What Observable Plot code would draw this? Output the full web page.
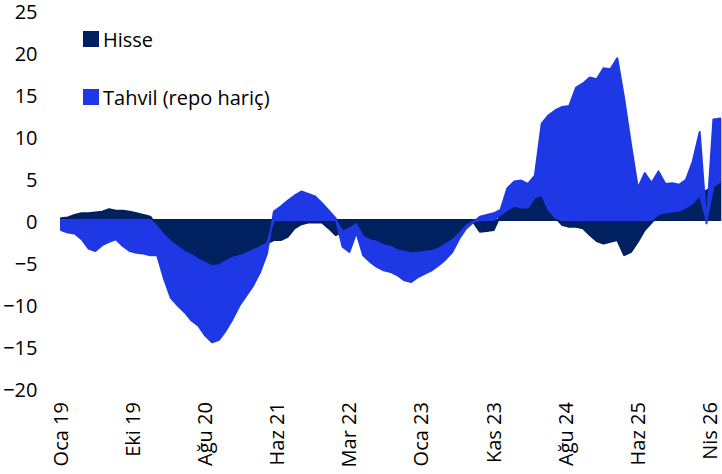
<!DOCTYPE html>
<html>
<head>
<meta charset="utf-8">
<script src="https://cdn.jsdelivr.net/npm/d3@7"></script>
<script src="https://cdn.jsdelivr.net/npm/@observablehq/plot@0.6"></script>
<style>
  html, body { margin: 0; padding: 0; background: #fff; }
  #wrap { position: relative; width: 722px; height: 474px; font-family: "Open Sans", sans-serif; }
  .leg { position: absolute; left: 83px; height: 28px; display: flex; align-items: center; gap: 4px; font-size: 20px; color: #000; white-space: nowrap; }
  .sw { width: 16px; height: 16px; display: inline-block; }
</style>
</head>
<body>
<div id="wrap"></div>
<script>
const seriesNames = ["Hisse", "Tahvil (repo hariç)"];
const seriesColors = ["#00205f", "#1f38e6"];

const dates = [
"2019-01-04","2019-02-01","2019-03-01","2019-03-29","2019-04-26","2019-05-24","2019-06-21","2019-07-19","2019-08-16","2019-09-13","2019-10-11","2019-11-08","2019-12-06",
"2020-01-03","2020-01-31","2020-02-28","2020-03-27","2020-04-24","2020-05-22","2020-06-19","2020-07-17","2020-08-14","2020-09-11","2020-10-09","2020-11-06","2020-12-04",
"2021-01-01","2021-01-29","2021-02-26","2021-03-26","2021-04-23","2021-05-21","2021-06-18","2021-07-16","2021-08-13","2021-09-10","2021-10-08","2021-11-05","2021-12-03","2021-12-31",
"2022-01-28","2022-02-25","2022-03-25","2022-04-22","2022-05-20","2022-06-17","2022-07-15","2022-08-12","2022-09-09","2022-10-07","2022-11-04","2022-12-02","2022-12-30",
"2023-01-27","2023-02-24","2023-03-24","2023-04-21","2023-05-19","2023-06-16","2023-07-14","2023-08-11","2023-09-08","2023-10-06","2023-11-03","2023-12-01","2023-12-29",
"2024-01-26","2024-02-23","2024-03-22","2024-04-19","2024-05-17","2024-06-14","2024-07-12","2024-08-09","2024-09-06","2024-10-04","2024-11-01","2024-11-29","2024-12-27",
"2025-01-24","2025-02-21","2025-03-21","2025-04-18","2025-05-16","2025-06-13","2025-07-11","2025-08-08","2025-09-05","2025-10-03","2025-10-31","2025-11-28","2025-12-26",
"2026-01-23","2026-02-20","2026-03-20","2026-04-17","2026-05-15"];

const hisse = [
0.2,0.3,0.6,0.8,0.8,0.9,1.0,1.3,1.1,1.1,1.0,0.8,0.6,
0.4,-0.8,-1.8,-2.6,-3.2,-3.8,-4.2,-4.7,-5.1,-5.5,-5.4,-4.9,-4.5,
-4.3,-4.0,-3.6,-3.2,-2.8,-2.4,-2.4,-2.0,-1.0,-0.5,-0.3,-0.3,-0.3,-1.0,
-1.8,-1.4,-1.0,-0.5,-2.0,-2.4,-2.6,-3.0,-3.2,-3.6,-3.8,-4.0,-3.9,
-3.8,-3.7,-3.4,-2.9,-2.4,-1.6,-0.7,-0.2,-1.4,-1.3,-1.2,0.6,1.2,
1.7,1.5,1.5,2.7,3.0,1.2,0.3,-0.6,-0.8,-0.8,-1.0,-1.8,-2.5,
-2.8,-2.6,-2.4,-4.2,-3.8,-2.6,-1.2,-0.3,0.7,0.9,1.0,1.1,1.5,
2.0,3.0,3.5,4.0,4.6];

const tahvil = [
-1.2,-1.5,-1.6,-2.3,-3.4,-3.7,-3.0,-2.6,-2.3,-3.1,-3.7,-3.9,-4.0,
-4.2,-3.4,-5.2,-6.7,-7.0,-7.2,-7.8,-7.9,-8.7,-9.1,-8.9,-8.3,-7.3,
-5.9,-5.0,-4.2,-3.0,-1.2,1.0,1.6,2.3,2.9,3.4,3.1,2.8,2.0,1.1,
0.2,-1.8,-2.8,-1.0,-2.2,-2.6,-3.0,-3.0,-3.0,-3.0,-3.4,-3.4,-2.9,
-2.6,-2.3,-2.0,-1.8,-1.4,-0.6,-0.3,-0.1,0.4,0.6,0.8,0.6,2.6,
2.9,3.2,2.8,2.6,8.5,11.3,12.8,13.5,13.6,15.8,16.3,17.0,16.8,
18.1,18.0,19.3,14.5,9.0,3.8,5.6,4.4,5.1,3.4,3.4,3.1,3.3,
5.0,7.5,-0.4,8.0,7.5];

const yTicks = [-20,-15,-10,-5,0,5,10,15,20,25];
const tickDates = ["2019-01-04","2019-10-25","2020-08-14","2021-06-04","2022-03-25","2023-01-13","2023-11-03","2024-08-23","2025-06-13","2026-04-03"];
const tickLabels = ["Oca 19","Eki 19","Ağu 20","Haz 21","Mar 22","Oca 23","Kas 23","Ağu 24","Haz 25","Nis 26"];

const rows = [];
dates.forEach((d, i) => {
  rows.push({date: new Date(d), series: seriesNames[0], value: hisse[i]});
});
dates.forEach((d, i) => {
  rows.push({date: new Date(d), series: seriesNames[1], value: tahvil[i]});
});
const tickDateObjs = tickDates.map(d => new Date(d));
const labelMap = new Map(tickDateObjs.map((d, i) => [+d, tickLabels[i]]));

const chart = Plot.plot({
  width: 722,
  height: 474,
  marginLeft: 60,
  marginRight: 0,
  marginTop: 10.5,
  marginBottom: 86.4,
  style: {fontFamily: "Open Sans, sans-serif", fontSize: "20px", color: "#000", background: "#fff", overflow: "visible"},
  x: {type: "utc", domain: [new Date("2018-12-31"), new Date("2026-05-22")]},
  y: {domain: [-20, 25]},
  color: {domain: seriesNames, range: seriesColors},
  marks: [
    Plot.ruleY([0], {stroke: "#c0c0c0", strokeWidth: 1}),
    Plot.areaY(rows, {x: "date", y: "value", z: "series", fill: "series", stroke: "series", strokeWidth: 2, strokeLinejoin: "round", order: seriesNames, curve: "linear"}),
    Plot.axisY({ticks: yTicks, tickSize: 0, tickPadding: 23, fontSize: 20, dy: 2, label: null}),
    Plot.axisX({ticks: tickDateObjs, tickFormat: d => labelMap.get(+d), tickRotate: -90, tickSize: 0, tickPadding: 14, fontSize: 20, label: null})
  ]
});

const wrap = document.getElementById("wrap");
wrap.appendChild(chart);
const legTops = [25, 83];
seriesNames.forEach((name, i) => {
  const item = document.createElement("div");
  item.className = "leg";
  item.style.top = legTops[i] + "px";
  const sw = document.createElement("span");
  sw.className = "sw";
  sw.style.background = seriesColors[i];
  item.appendChild(sw);
  item.appendChild(document.createTextNode(name));
  wrap.appendChild(item);
});
</script>
</body>
</html>
